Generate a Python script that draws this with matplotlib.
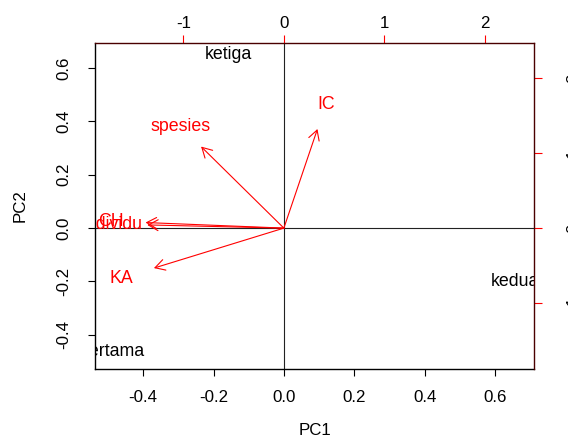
import matplotlib
matplotlib.use('Agg')
import matplotlib.pyplot as plt

plt.rcParams['font.family'] = ['Liberation Sans', 'DejaVu Sans']
plt.rcParams['axes.unicode_minus'] = False

# observation scores (PC1, PC2)
obs_names = ['pertama', 'kedua', 'ketiga']
obs_pc1 = [-0.489, 0.656, -0.159]
obs_pc2 = [-0.465, -0.199, 0.649]

# variable loadings (label positions, top/right scale)
var_names = ['individu', 'CH', 'spesies', 'IC', 'KA']
var_x = [-1.700, -1.721, -1.030, 0.418, -1.617]
var_y = [0.053, 0.093, 1.360, 1.653, -0.667]

fig = plt.figure(figsize=(5.68, 4.36), dpi=100)
pos = [95 / 568, 67 / 436, 439 / 568, 326 / 436]
ax = fig.add_axes(pos)
ax2 = fig.add_axes(pos)
ax2.patch.set_visible(False)

fs = 12.2
fs_txt = 12.8

# main axes (scores)
ax.set_xlim(-0.537, 0.710)
ax.set_ylim(-0.529, 0.694)
ax.set_xticks([-0.4, -0.2, 0.0, 0.2, 0.4, 0.6])
ax.set_yticks([-0.4, -0.2, 0.0, 0.2, 0.4, 0.6])
ax.set_xticklabels(['-0.4', '-0.2', '0.0', '0.2', '0.4', '0.6'])
ax.set_yticklabels(['-0.4', '-0.2', '0.0', '0.2', '0.4', '0.6'], rotation=90, va='center')
ax.tick_params(axis='x', length=5, width=0.8, pad=10, labelsize=fs)
ax.tick_params(axis='y', length=5, width=0.8, pad=12, labelsize=fs)
ax.set_xlabel('PC1', fontsize=fs, labelpad=13)
ax.set_ylabel('PC2', fontsize=fs, labelpad=21)
for s in ['top', 'right']:
    ax.spines[s].set_visible(False)
for s in ['left', 'bottom']:
    ax.spines[s].set_linewidth(1.0)

ax.axhline(0, color='#222222', lw=0.8)
ax.axvline(0, color='#222222', lw=0.8)

for name, x, y in zip(obs_names, obs_pc1, obs_pc2):
    ax.text(x, y, name, fontsize=fs_txt, ha='center', va='center', clip_on=True)

# overlay axes (loadings)
ax2.set_xlim(-1.88, 2.49)
ax2.set_ylim(-1.88, 2.47)
ax2.xaxis.tick_top()
ax2.yaxis.tick_right()
ax2.set_xticks([-1, 0, 1, 2])
ax2.set_yticks([-1, 0, 1, 2])
ax2.set_yticklabels(['-1', '0', '1', '2'], rotation=90, va='center')
ax2.tick_params(axis='x', colors='red', labelcolor='black', length=6, width=0.8, pad=3, labelsize=fs)
ax2.tick_params(axis='y', colors='red', labelcolor='black', length=6, width=0.8, pad=17, labelsize=fs)
for s in ['left', 'bottom']:
    ax2.spines[s].set_visible(False)
for s in ['top', 'right']:
    ax2.spines[s].set_color('#4a0000')
    ax2.spines[s].set_linewidth(1.0)

for name, x, y in zip(var_names, var_x, var_y):
    ax2.annotate('', xy=(0.8 * x, 0.8 * y), xytext=(0, 0),
                 arrowprops=dict(arrowstyle='->,head_length=0.5,head_width=0.28',
                                 color='red', lw=0.8, mutation_scale=14,
                                 shrinkA=0, shrinkB=0))
    ax2.text(x, y, name, color='red', fontsize=fs_txt, ha='center', va='center', clip_on=True)

fig.savefig('out.png', dpi=100)
